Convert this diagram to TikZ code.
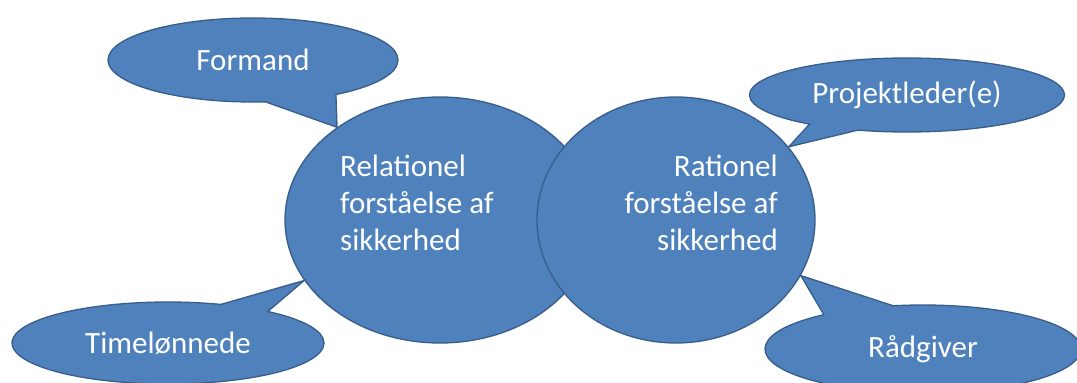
\documentclass[tikz,border=0pt]{standalone}
\usepackage{fontspec}
\setmainfont{Carlito}
\usetikzlibrary{shapes.geometric,shapes.callouts}
\definecolor{fillblue}{RGB}{79,129,189}
\definecolor{edgeblue}{RGB}{56,93,138}
\begin{document}
\begin{tikzpicture}[x=1pt,y=-1pt,
  blob/.style={ellipse,fill=fillblue,draw=edgeblue,line width=1.3pt,inner sep=0pt},
  bubble/.style={ellipse callout,fill=fillblue,draw=edgeblue,line width=1.3pt,
    inner sep=0pt,text=white,font=\fontsize{31}{37}\selectfont},
  blobtext/.style={text=white,inner sep=0pt,font=\fontsize{31}{37}\selectfont}]
\useasboundingbox (0,0) rectangle (1077,383);

% the two understandings of safety
\node[blob,minimum width=310pt,minimum height=246pt] (rel) at (440,220) {};
\node[blob,minimum width=278pt,minimum height=246pt] (rat) at (676,220) {};
\node[blobtext,align=left,anchor=north west] (reltext) at (340,155)
  {Relationel\\forståelse af\\sikkerhed};
\node[blobtext,align=right,anchor=north east] (rattext) at (778,155)
  {Rationel\\forståelse af\\sikkerhed};

% speech bubbles pointing at them
\node[bubble,minimum width=290pt,minimum height=84pt,
  callout absolute pointer={(rel.138)},callout pointer arc=30] (formand) at (253,60) {Formand};
\node[bubble,minimum width=315pt,minimum height=74pt,
  callout absolute pointer={(rat.33)},callout pointer arc=20] (projekt) at (907,95) {Projektleder(e)};
\node[bubble,minimum width=312pt,minimum height=82pt,
  callout absolute pointer={(rel.204)},callout pointer arc=20] (time) at (168,343) {Timelønnede};
\node[bubble,minimum width=316pt,minimum height=88pt,
  callout absolute pointer={(rat.336)},callout pointer arc=28] (raad) at (923,349) {Rådgiver};
\end{tikzpicture}
\end{document}
